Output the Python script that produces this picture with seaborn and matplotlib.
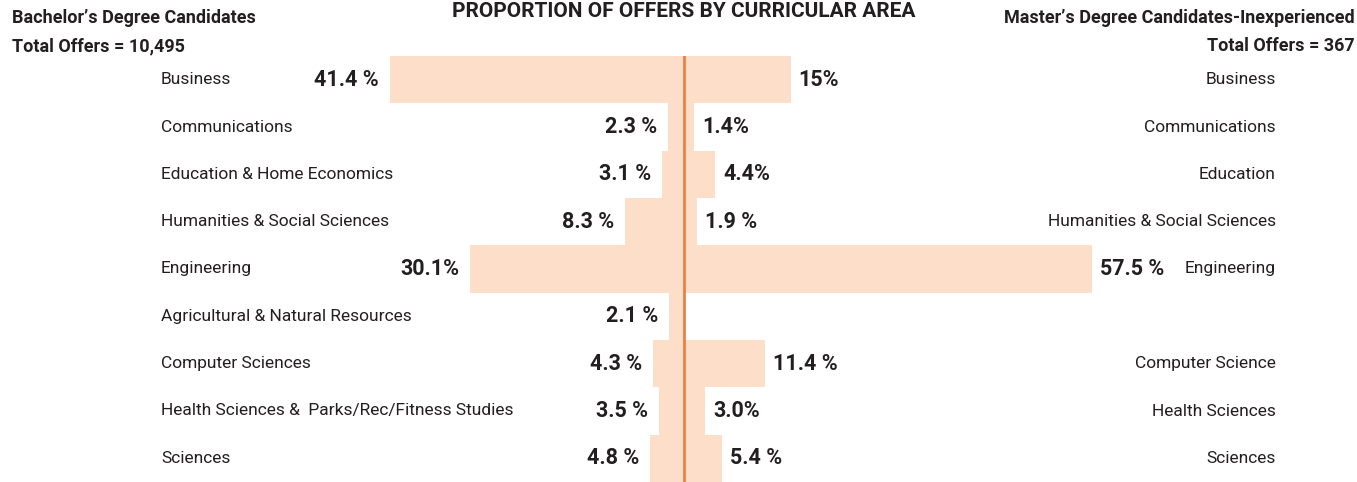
import seaborn as sns
import matplotlib.pyplot as plt
import pandas as pd
import numpy as np

# data
categories = ["Business", "Communications", "Education & Home Economics",
              "Humanities & Social Sciences", "Engineering",
              "Agricultural & Natural Resources", "Computer Sciences",
              "Health Sciences &  Parks/Rec/Fitness Studies", "Sciences"]
bachelor_pct = [41.4, 2.3, 3.1, 8.3, 30.1, 2.1, 4.3, 3.5, 4.8]
bachelor_labels = ["41.4 %", "2.3 %", "3.1 %", "8.3 %", "30.1%", "2.1 %",
                   "4.3 %", "3.5 %", "4.8 %"]
master_pct = [15.0, 1.4, 4.4, 1.9, 57.5, np.nan, 11.4, 3.0, 5.4]
master_labels = ["15%", "1.4%", "4.4%", "1.9 %", "57.5 %", "", "11.4 %",
                 "3.0%", "5.4 %"]
master_categories = ["Business", "Communications", "Education",
                     "Humanities & Social Sciences", "Engineering", "",
                     "Computer Science", "Health Sciences", "Sciences"]

sns.set_style("white")
plt.rcParams['font.family'] = ['Roboto', 'DejaVu Sans']

bar_color = "#FCDEC9"
line_color = "#EE7A3C"
text_color = "#231F20"

df = pd.DataFrame({"category": categories,
                   "bachelor": [-v for v in bachelor_pct],
                   "master": master_pct})

W, H = 1357, 482
fig = plt.figure(figsize=(W / 100, H / 100), dpi=100)
ax = fig.add_axes([0, 0, 1, 426 / H])

px = 7.1  # pixels per percent
center = 684
ax.set_xlim(-center / px, (W - center) / px)

sns.barplot(data=df, x="bachelor", y="category", order=categories,
            color=bar_color, width=1.0, orient="h", ax=ax,
            saturation=1, linewidth=0)
sns.barplot(data=df, x="master", y="category", order=categories,
            color=bar_color, width=1.0, orient="h", ax=ax,
            saturation=1, linewidth=0)
ax.set_ylim(len(categories) - 0.5, -0.5)
ax.axvline(0, color=line_color, lw=1.9)

xmin = ax.get_xlim()[0]
gap_l = 11 / px
gap_r = 8 / px
for i, cat in enumerate(categories):
    # left side: category name and value
    ax.text(xmin + 161 / px, i, cat, ha="left", va="center",
            fontsize=12.5, color=text_color)
    ax.text(-bachelor_pct[i] - gap_l, i, bachelor_labels[i], ha="right",
            va="center", fontsize=15.5, fontweight="bold", color=text_color)
    # right side
    if not np.isnan(master_pct[i]):
        ax.text(master_pct[i] + gap_r, i, master_labels[i], ha="left",
                va="center", fontsize=15.5, fontweight="bold",
                color=text_color)
    ax.text(xmin + 1276 / px, i, master_categories[i], ha="right",
            va="center", fontsize=12.5, color=text_color)

ax.set_xlabel("")
ax.set_ylabel("")
ax.set_xticks([])
ax.set_yticks([])
sns.despine(ax=ax, left=True, bottom=True)

# headers
fig.text(12 / W, 1 - 18 / H, "Bachelor\u2019s Degree Candidates", ha="left",
         va="center", fontsize=13, fontweight="bold", color=text_color)
fig.text(12 / W, 1 - 46 / H, "Total Offers = 10,495", ha="left",
         va="center", fontsize=13, fontweight="bold", color=text_color)
fig.text(1 - 2 / W, 1 - 18 / H, "Master\u2019s Degree Candidates-Inexperienced",
         ha="right", va="center", fontsize=13, fontweight="bold",
         color=text_color)
fig.text(1 - 2 / W, 1 - 46 / H, "Total Offers = 367", ha="right",
         va="center", fontsize=13, fontweight="bold", color=text_color)
fig.text(center / W, 1 - 2 / H, "PROPORTION OF OFFERS BY CURRICULAR AREA",
         ha="center", va="top", fontsize=15, fontweight="bold",
         color=text_color)

fig.savefig("out.png", dpi=100)
